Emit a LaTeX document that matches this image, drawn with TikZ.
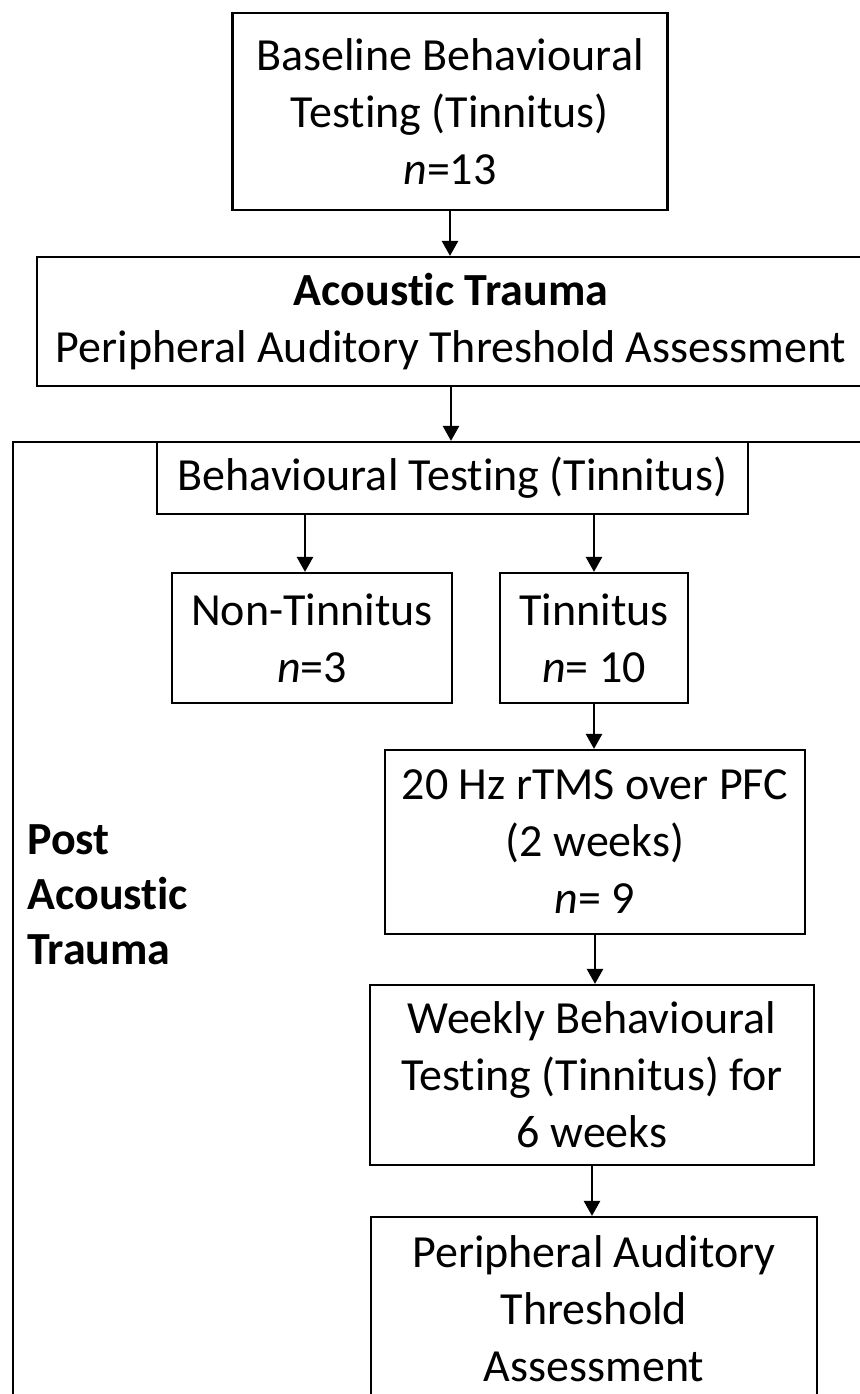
\documentclass[tikz,border=0pt]{standalone}
\usepackage{fontspec}
\setmainfont{Carlito}[Ligatures=NoCommon]
\usetikzlibrary{positioning,arrows.meta}

\begin{document}
\begin{tikzpicture}[x=0.5pt, y=-0.5pt]
    \tikzset{
        box/.style = {rectangle, line width=1.1pt, draw=black, fill=white, align=center, inner sep=0pt,
                      font=\fontsize{23}{28.5}\selectfont},
        arrow/.style = {line width=1.3pt,->,>={Triangle[length=7.5pt,width=8pt]}}
    }
    \clip (0,0) rectangle (860,1394);
    \useasboundingbox (0,0) rectangle (860,1394);

    % outer frame for the post trauma part
    \draw[line width=1.3pt] (13,442) rectangle (880,1420);

    \node (base) [box, minimum width=217.5pt, minimum height=98.5pt] at (450,111.5)
        {Baseline Behavioural\\ Testing (Tinnitus)\\ \textit{n}=13};
    \node (trauma) [box, minimum width=414pt, minimum height=64.5pt] at (451,321.5)
        {\textbf{Acoustic Trauma}\\ Peripheral Auditory Threshold Assessment};
    \draw [arrow] (base.south) -- (base.south |- trauma.north);

    \node (behav) [box, minimum width=295.5pt, minimum height=36pt] at (452.5,478)
        {Behavioural Testing (Tinnitus)};
    \draw [arrow] (trauma.south) -- (trauma.south |- behav.north);

    \node (nontin) [box, minimum width=140pt, minimum height=65pt] at (312,638)
        {Non-Tinnitus\\ \textit{n}=3};
    \node (tin) [box, minimum width=94pt, minimum height=65pt] at (594,638)
        {Tinnitus\\ \textit{n}= 10};
    \draw [arrow] ([xshift=-3.5pt]nontin.north |- behav.south) -- ([xshift=-3.5pt]nontin.north);
    \draw [arrow] (tin.north |- behav.south) -- (tin.north);

    \node (rtms) [box, minimum width=210pt, minimum height=92pt] at (595,842)
        {20 Hz rTMS over PFC\\ (2 weeks)\\ \textit{n}= 9};
    \draw [arrow] (tin.south) -- (tin.south |- rtms.north);

    \node (weekly) [box, minimum width=222pt, minimum height=90pt] at (592,1075)
        {Weekly Behavioural\\ Testing (Tinnitus) for\\ 6 weeks};
    \draw [arrow] (rtms.south) -- (rtms.south |- weekly.north);

    \node (periph) [box, minimum width=223pt, minimum height=92pt] at (594,1309)
        {Peripheral Auditory\\ Threshold\\ Assessment};
    \draw [arrow] (weekly.south) -- (weekly.south |- periph.north);

    \node (post) [anchor=west, align=left, inner sep=0pt, font=\fontsize{23}{27.5}\selectfont\bfseries]
        at (27,895) {Post\\ Acoustic\\ Trauma};
\end{tikzpicture}
\end{document}
